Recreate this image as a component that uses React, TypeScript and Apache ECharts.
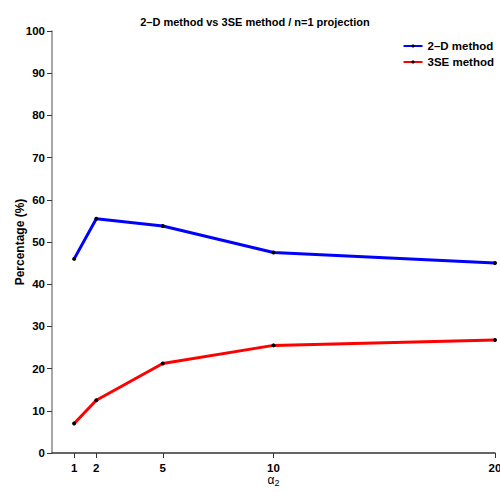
import React, { useEffect, useRef } from "react";
import * as echarts from "echarts";

const xValues = [1, 2, 5, 10, 20];
const blueValues = [46.0, 55.5, 53.8, 47.5, 45.0];
const redValues = [7.0, 12.5, 21.2, 25.5, 26.8];
const seriesNames = ["2\u2013D method", "3SE method"];
const titleText = "2\u2013D method vs 3SE method / n=1 projection";

const FONT = "'Liberation Sans Narrow', 'Liberation Sans', Arial, sans-serif";

export default function App() {
  const ref = useRef<HTMLDivElement>(null);
  useEffect(() => {
    if (!ref.current) return;
    const chart = echarts.init(ref.current, null, { renderer: "svg" });
    const mk = (vals: number[]) => xValues.map((x, i) => [x, vals[i]]);
    chart.setOption({
      animation: false,
      backgroundColor: "#ffffff",
      title: {
        text: titleText,
        left: 250,
        textAlign: "center",
        top: 11,
        textStyle: { fontFamily: FONT, fontWeight: "bold", fontSize: 11, color: "#000" },
      },
      legend: {
        right: 6,
        top: 39,
        orient: "vertical",
        itemGap: 2,
        itemWidth: 19,
        itemHeight: 4,
        padding: 0,
        textStyle: { fontFamily: FONT, fontWeight: "bold", fontSize: 11.5, color: "#000", lineHeight: 14 },
        data: seriesNames,
      },
      grid: { left: 52, right: 5, top: 31, bottom: 39, containLabel: false, outerBoundsMode: "none" },
      xAxis: {
        type: "value",
        min: 0,
        max: 20,
        name: "{a|\u03b1}{s|2}",
        nameLocation: "middle",
        nameGap: 19,
        nameMoveOverlap: false,
        nameTextStyle: {
          rich: {
            a: { fontFamily: FONT, fontSize: 12, color: "#000" },
            s: { fontFamily: FONT, fontSize: 9, color: "#000", verticalAlign: "bottom", padding: [6, 0, 0, 0] },
          },
        },
        axisLine: { show: true, lineStyle: { color: "#333", width: 1.5 } },
        axisTick: { show: true, length: 5, customValues: xValues, lineStyle: { color: "#333" } },
        axisLabel: {
          customValues: xValues,
          fontFamily: FONT,
          fontWeight: "bold",
          fontSize: 11.5,
          color: "#000",
          margin: 9,
        },
        splitLine: { show: false },
      },
      yAxis: {
        type: "value",
        min: 0,
        max: 100,
        interval: 10,
        name: "Percentage (%)",
        nameLocation: "middle",
        nameGap: 26,
        nameMoveOverlap: false,
        nameTextStyle: { fontFamily: FONT, fontWeight: "bold", fontSize: 12, color: "#000" },
        axisLine: { show: true, lineStyle: { color: "#888", width: 1.5 } },
        axisTick: { show: true, length: 5, lineStyle: { color: "#333" } },
        axisLabel: { fontFamily: FONT, fontWeight: "bold", fontSize: 11.5, color: "#000", margin: 7 },
        splitLine: { show: false },
      },
      series: [
        {
          name: seriesNames[0],
          type: "line",
          data: mk(blueValues),
          lineStyle: { color: "#0000ff", width: 3 },
          symbol: "circle",
          symbolSize: 4,
          itemStyle: { color: "#000" },
          showAllSymbol: true,
        },
        {
          name: seriesNames[1],
          type: "line",
          data: mk(redValues),
          lineStyle: { color: "#ff0000", width: 3 },
          symbol: "circle",
          symbolSize: 4,
          itemStyle: { color: "#000" },
          showAllSymbol: true,
        },
      ],
    });
    return () => chart.dispose();
  }, []);
  return <div ref={ref} style={{ width: 500, height: 492, position: "absolute", left: 0, top: 0 }} />;
}
